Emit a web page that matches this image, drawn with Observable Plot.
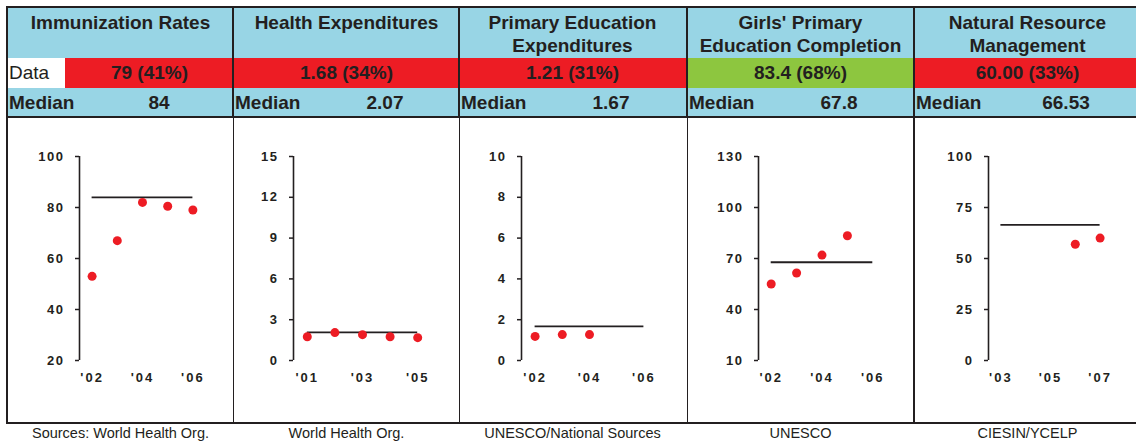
<!DOCTYPE html>
<html>
<head>
<meta charset="utf-8">
<script src="https://cdn.jsdelivr.net/npm/d3@7"></script>
<script src="https://cdn.jsdelivr.net/npm/@observablehq/plot@0.6"></script>
<style>
  html, body { margin: 0; padding: 0; background: #fff; }
  #root { position: relative; width: 1136px; height: 445px; overflow: hidden;
    font-family: "Liberation Sans", Arial, sans-serif; color: #231F20; }
  .abs { position: absolute; box-sizing: border-box; }
  .title { font-weight: bold; font-size: 19px; line-height: 23px; text-align: center; white-space: nowrap; }
  .row { display: flex; align-items: center; font-size: 19px; white-space: nowrap; }
  .line { background: #231F20; z-index: 5; }
  .src { font-size: 14.5px; text-align: center; white-space: nowrap; }
  svg { overflow: visible; }
</style>
</head>
<body>
<div id="root"></div>
<script>
// ---------------- data ----------------
const titles = [
  ["Immunization Rates"],
  ["Health Expenditures"],
  ["Primary Education", "Expenditures"],
  ["Girls' Primary", "Education Completion"],
  ["Natural Resource", "Management"]
];
const dataLabels = ["79 (41%)", "1.68 (34%)", "1.21 (31%)", "83.4 (68%)", "60.00 (33%)"];
const percentiles = [41, 34, 31, 68, 33];
const medians = [84, 2.07, 1.67, 67.8, 66.53];
const medianLabels = ["84", "2.07", "1.67", "67.8", "66.53"];
const sources = ["Sources: World Health Org.", "World Health Org.", "UNESCO/National Sources", "UNESCO", "CIESIN/YCELP"];

const immYears = [2002, 2003, 2004, 2005, 2006];
const immValues = [53, 67, 82, 80.5, 79];
const healthYears = [2001, 2002, 2003, 2004, 2005];
const healthValues = [1.75, 2.05, 1.9, 1.75, 1.68];
const eduYears = [2002, 2003, 2004];
const eduValues = [1.18, 1.27, 1.27];
const girlsYears = [2002, 2003, 2004, 2005];
const girlsValues = [55, 61.5, 72, 83.4];
const nrmYears = [2006, 2007];
const nrmValues = [57, 60];

const yTicks = [
  [20, 40, 60, 80, 100],
  [0, 3, 6, 9, 12, 15],
  [0, 2, 4, 6, 8, 10],
  [10, 40, 70, 100, 130],
  [0, 25, 50, 75, 100]
];
const xTicks = [
  [2002, 2004, 2006],
  [2001, 2003, 2005],
  [2002, 2004, 2006],
  [2002, 2004, 2006],
  [2003, 2005, 2007]
];
const seriesYears = [immYears, healthYears, eduYears, girlsYears, nrmYears];
const seriesValues = [immValues, healthValues, eduValues, girlsValues, nrmValues];

// ---------------- layout ----------------
const BLUE = "#98D5E5", RED = "#ED1C24", GREEN = "#8DC63F", INK = "#231F20";
const colLeft = [7, 233, 459, 687, 914];
const colW = 227;
const marginLefts = [72, 60, 62, 71, 74];
const root = document.getElementById("root");

function div(cls, style, text) {
  const d = document.createElement("div");
  d.className = "abs " + cls;
  Object.assign(d.style, style);
  if (text != null) d.textContent = text;
  root.appendChild(d);
  return d;
}

// header background
div("", {left: "7px", top: "7px", width: "1140px", height: "110px", background: BLUE});

titles.forEach((lines, i) => {
  const L = colLeft[i];
  const t = div("title", {left: L + "px", top: "11px", width: colW + "px"});
  t.innerHTML = lines.map(s => s.replace(/&/g, "&amp;").replace(/</g, "&lt;")).join("<br>");

  // data row
  const color = percentiles[i] >= 50 ? GREEN : RED;
  if (i === 0) {
    div("row", {left: L + "px", top: "58px", width: "58px", height: "30px", background: "#fff",
      paddingLeft: "2px"}, "Data");
    div("row", {left: (L + 58) + "px", top: "58px", width: (colW - 58) + "px", height: "30px",
      background: color, justifyContent: "center", fontWeight: "bold"}, dataLabels[i]);
  } else {
    div("row", {left: L + "px", top: "58px", width: colW + "px", height: "30px",
      background: color, justifyContent: "center", fontWeight: "bold"}, dataLabels[i]);
  }

  // median row
  div("row", {left: (L + 2) + "px", top: "88px", width: "80px", height: "29px", fontWeight: "bold"}, "Median");
  div("row", {left: (L + 102) + "px", top: "88px", width: "100px", height: "29px", fontWeight: "bold",
    justifyContent: "center"}, medianLabels[i]);

  // chart
  const xs = xTicks[i], ys = yTicks[i];
  const xDom = [xs[0] - 0.5, xs[xs.length - 1] + 0.5];
  const yDom = [ys[0], ys[ys.length - 1]];
  const pts = seriesYears[i].map((yr, k) => ({year: yr, value: seriesValues[i][k]}));
  const chart = Plot.plot({
    width: colW,
    height: 305,
    marginLeft: marginLefts[i],
    marginRight: colW - 198,
    marginTop: 38,
    marginBottom: 63,
    style: {background: "transparent", color: INK, fontFamily: "Liberation Sans, Arial, sans-serif"},
    x: {domain: xDom},
    y: {domain: yDom},
    marks: [
      Plot.axisY({ticks: ys, tickSize: 4, tickPadding: 11, fontSize: 13, fontWeight: "bold",
        label: null, tickFormat: d => String(d), strokeWidth: 1.5}),
      Plot.axisX({ticks: xs, tickSize: 0, tickPadding: 12, fontSize: 13, fontWeight: "bold",
        label: null, tickFormat: d => "'" + String(d).slice(2)}),
      Plot.ruleX([xDom[0]], {y1: yDom[0], y2: yDom[1], stroke: INK, strokeWidth: 1.6}),
      Plot.ruleY([medians[i]], {x1: xs[0], x2: xs[xs.length - 1], stroke: INK, strokeWidth: 1.8}),
      Plot.dot(pts, {x: "year", y: "value", r: 4.5, fill: RED, stroke: null})
    ]
  });
  chart.querySelectorAll("g[aria-label='y-axis tick label']")
    .forEach(e => e.setAttribute("letter-spacing", "1.5"));
  chart.querySelectorAll("g[aria-label='x-axis tick label']")
    .forEach(e => e.setAttribute("letter-spacing", "2"));
  const holder = div("", {left: L + "px", top: "118px", width: colW + "px", height: "305px"});
  holder.appendChild(chart);

  // source
  div("src", {left: L + "px", top: "425px", width: colW + "px"}, sources[i]);
});

// grid lines
div("line", {left: "6px", top: "6px", width: "1140px", height: "2px"});
div("line", {left: "6px", top: "6px", width: "2px", height: "418px"});
div("line", {left: "6px", top: "116px", width: "1140px", height: "2px"});
div("line", {left: "6px", top: "422px", width: "1140px", height: "2px"});
colLeft.slice(1).forEach((x, k) => {
  div("line", {left: (x - 1) + "px", top: "6px", width: "2px", height: "112px"});
  const w = k === 3 ? 2 : 1;
  div("line", {left: (x - (w === 2 ? 1 : 0)) + "px", top: "118px", width: w + "px", height: "305px"});
});
</script>
</body>
</html>
